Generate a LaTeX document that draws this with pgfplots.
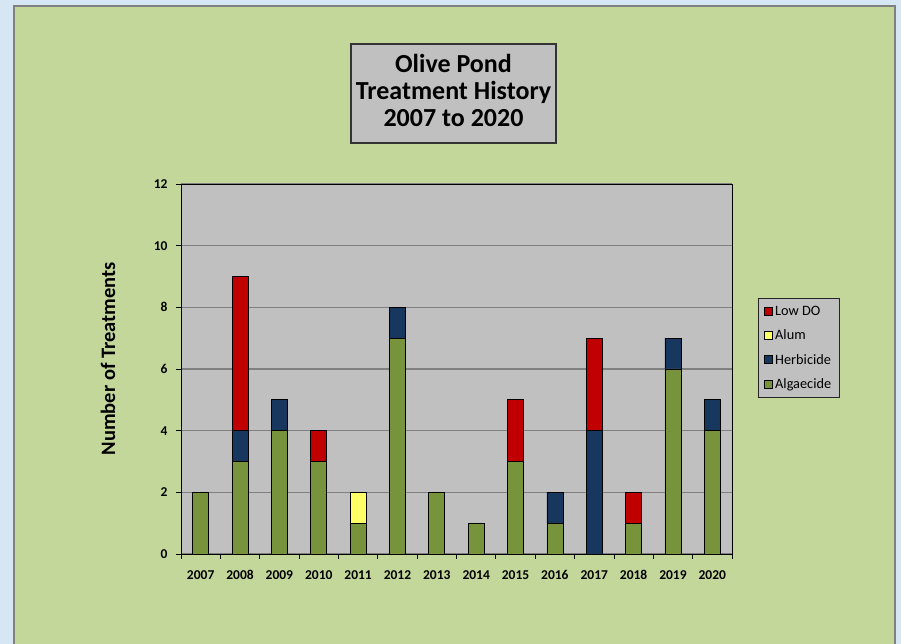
\documentclass[border=0pt]{standalone}
\usepackage{pgfplots}
\usepackage{pgfplotstable}
\pgfplotsset{compat=1.18}
\usepackage{fontspec}
\setmainfont{Carlito}
\definecolor{bgblue}{RGB}{214,230,243}
\definecolor{panel}{RGB}{196,215,155}
\definecolor{plotgray}{RGB}{192,192,192}
\definecolor{gridgray}{RGB}{128,128,128}
\definecolor{alg}{RGB}{119,147,60}
\definecolor{herb}{RGB}{23,55,94}
\definecolor{alum}{RGB}{255,255,102}
\definecolor{lowdo}{RGB}{192,0,0}
\pgfplotstableread{
x alg herb alum low
0 2 0 0 0
1 3 1 0 5
2 4 1 0 0
3 3 0 0 1
4 1 0 1 0
5 7 1 0 0
6 2 0 0 0
7 1 0 0 0
8 3 0 0 2
9 1 1 0 0
10 0 4 0 3
11 1 0 0 1
12 6 1 0 0
13 4 1 0 0
}\data
\begin{document}
\begin{tikzpicture}[x=1pt,y=1pt]
\useasboundingbox (0,0) rectangle (901,644);
\fill[bgblue] (0,0) rectangle (901,644);
\fill[panel] (14,0) rectangle (895,638);
\draw[gray, line width=1.2pt] (14,0) -- (14,638) -- (895,638) -- (895,0);
\draw[fill=plotgray, draw=black!80, line width=1.2pt] (351,501) rectangle (556,600);
\node[inner sep=0pt, align=center, font=\fontsize{26}{27}\selectfont\bfseries] at (453.5,554) {Olive Pond\\Treatment History\\2007 to 2020};
\begin{axis}[
  at={(181pt,90pt)}, anchor=south west,
  width=551pt, height=370pt, scale only axis,
  ybar stacked, bar width=16pt,
  xmin=-0.5, xmax=13.5, ymin=0, ymax=12,
  ytick={0,2,...,12},
  xtick={0,...,13},
  xticklabels={2007,2008,2009,2010,2011,2012,2013,2014,2015,2016,2017,2018,2019,2020},
  minor xtick={-0.5,0.5,...,13.5},
  xtick pos=left, ytick pos=left,
  major x tick style={draw=none},
  minor x tick style={black, line width=0.8pt},
  y tick style={black, line width=0.8pt},
  tick align=outside,
  major tick length=5pt, minor tick length=5pt,
  axis line style={black, line width=0.9pt},
  axis background/.style={fill=plotgray},
  ymajorgrids, grid style={gridgray, line width=1.1pt},
  xticklabel style={font=\fontsize{13.5}{15}\selectfont\bfseries, yshift=-8pt},
  yticklabel style={font=\fontsize{13.5}{15}\selectfont\bfseries, xshift=-5pt},
  /pgf/number format/assume math mode=true,
  ylabel={Number of Treatments},
  ylabel style={font=\fontsize{20.5}{22}\selectfont\bfseries, at={(axis description cs:-0.1325,0.528)}, anchor=center},
  legend style={at={(axis description cs:1.047,0.692)}, anchor=north west, fill=plotgray, draw=black!85, line width=1pt,
    font=\fontsize{14.3}{16}\selectfont, row sep=9pt, inner xsep=6pt, inner ysep=5.5pt, cells={anchor=west}},
  legend image code/.code={\draw[#1,/tikz/.cd,draw=black,line width=0.8pt] (0pt,-4pt) rectangle (8pt,4pt);},
  reverse legend,
  every axis plot/.append style={draw=black, line width=0.8pt},
]
\addplot[fill=alg] table[x=x,y=alg]{\data};
\addplot[fill=herb] table[x=x,y=herb]{\data};
\addplot[fill=alum] table[x=x,y=alum]{\data};
\addplot[fill=lowdo] table[x=x,y=low]{\data};
\legend{Algaecide,Herbicide,Alum,Low DO}
\end{axis}
\end{tikzpicture}
\end{document}
